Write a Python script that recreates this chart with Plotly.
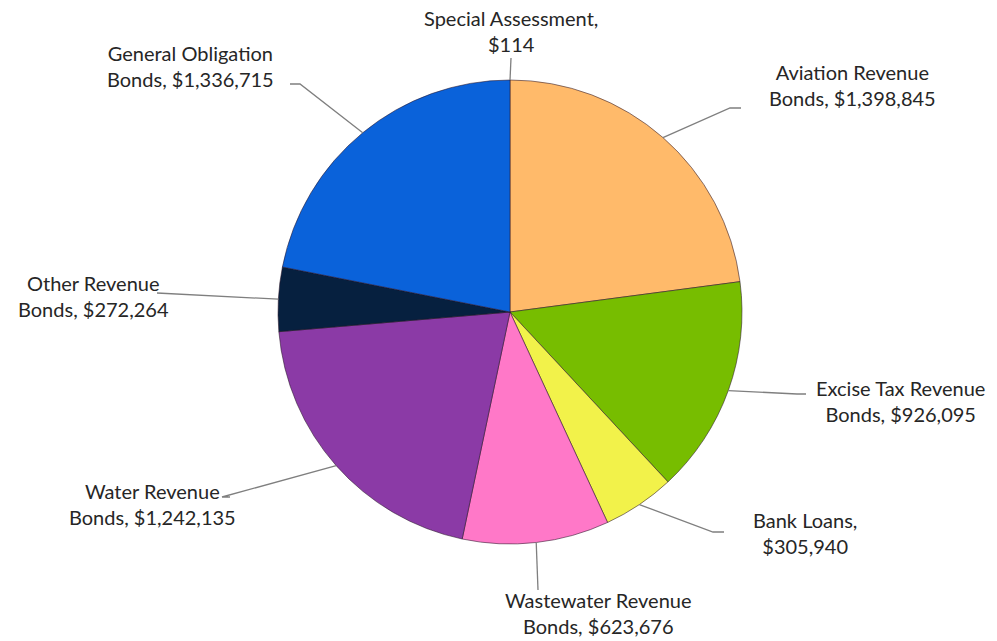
import math
import plotly.graph_objects as go

# Debt outstanding by instrument, clockwise from 12 o'clock
categories = [
    "Special Assessment",
    "Aviation Revenue Bonds",
    "Excise Tax Revenue Bonds",
    "Bank Loans",
    "Wastewater Revenue Bonds",
    "Water Revenue Bonds",
    "Other Revenue Bonds",
    "General Obligation Bonds",
]
values = [114, 1398845, 926095, 305940, 623676, 1242135, 272264, 1336715]

# Label text: first line, and the word that precedes the amount on line two
label_heads = ["Special Assessment", "Aviation Revenue", "Excise Tax Revenue", "Bank Loans",
               "Wastewater Revenue", "Water Revenue", "Other Revenue", "General Obligation"]
label_tails = ["", "Bonds", "Bonds", "", "Bonds", "Bonds", "Bonds", "Bonds"]

colors = ["#9a6fc4", "#FFBA6A", "#77BD00", "#F2F24A", "#FF78C8", "#8B3AA6", "#06203F", "#0A62DA"]

W, H = 997, 641
CX, CY, R = 510, 312, 232  # pie centre and radius in pixels

# Label placement (pixels): text centre, line anchor, optional elbow
label_pos = [
    dict(text=(511, 31), anchor=(511, 58), elbow=None),
    dict(text=(852, 85), anchor=(741, 108), elbow=(730, 108)),
    dict(text=(900, 401), anchor=(806, 394), elbow=(797, 394)),
    dict(text=(805, 533), anchor=(724, 532), elbow=(713, 532)),
    dict(text=(598, 613), anchor=(538, 590), elbow=None),
    dict(text=(152, 504), anchor=(230, 497), elbow=(222, 497)),
    dict(text=(93, 296), anchor=(157, 293), elbow=None),
    dict(text=(190, 66), anchor=(290, 84), elbow=(300, 84)),
]


def px_to_paper(x, y):
    return x / W, 1 - y / H


fig = go.Figure()
fig.add_trace(go.Pie(
    labels=categories,
    values=values,
    sort=False,
    direction="clockwise",
    rotation=0,
    marker=dict(colors=colors, line=dict(color="rgba(40,20,40,0.55)", width=1)),
    textinfo="none",
    hovertemplate="%{label}: $%{value:,}<extra></extra>",
    domain=dict(x=[(CX - R) / W, (CX + R) / W], y=[1 - (CY + R) / H, 1 - (CY - R) / H]),
    showlegend=False,
))

total = sum(values)
cum = 0.0
shapes = []
annotations = []
for head, tail, v, pos in zip(label_heads, label_tails, values, label_pos):
    mid = (cum + v / 2) / total * 2 * math.pi
    cum += v
    ex, ey = CX + R * math.sin(mid), CY - R * math.cos(mid)

    pts = [pos["anchor"]]
    if pos["elbow"]:
        pts.append(pos["elbow"])
    pts.append((ex, ey))
    path = ""
    for i, (x, y) in enumerate(pts):
        px, py = px_to_paper(x, y)
        path += ("M" if i == 0 else "L") + f"{px:.5f},{py:.5f} "
    shapes.append(dict(type="path", xref="paper", yref="paper", path=path.strip(),
                       line=dict(color="#7f7f7f", width=1.3)))

    amount = f"${v:,}"
    if tail:
        txt = f"{head}<br>{tail}, {amount}"
    else:
        txt = f"{head},<br>{amount}"
    tx, ty = px_to_paper(*pos["text"])
    annotations.append(dict(x=tx, y=ty, xref="paper", yref="paper", text=txt,
                            showarrow=False, xanchor="center", yanchor="middle",
                            align="center", font=dict(size=20, color="#262626")))

fig.update_layout(
    width=W, height=H,
    margin=dict(l=0, r=0, t=0, b=0),
    paper_bgcolor="white",
    plot_bgcolor="white",
    font=dict(family="Lato, 'Open Sans', sans-serif"),
    shapes=shapes,
    annotations=annotations,
)

fig.write_html("out.html")
